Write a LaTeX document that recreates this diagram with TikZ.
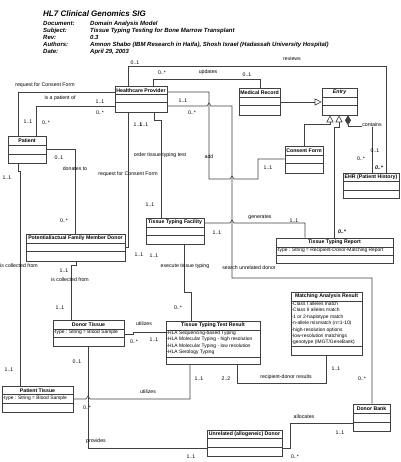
\documentclass[tikz,border=0pt]{standalone}
\usepackage{fontspec}
\setmainfont{Liberation Sans}
\usetikzlibrary{arrows.meta}

\tikzset{
  uml/.style={line width=0.6pt, draw=black!75},
  classbox/.style={uml, rectangle, inner sep=0pt},
  classname/.style={font=\fontsize{5.2}{6}\selectfont\bfseries, inner sep=0pt},
  attrtext/.style={anchor=north west, align=left, font=\fontsize{4.9}{6.4}\selectfont, inner sep=0pt, xshift=0.4pt, yshift=-0.8pt},
  lbl/.style={font=\fontsize{5.2}{6}\selectfont, inner sep=0pt},
  boldmult/.style={font=\fontsize{5.2}{6}\selectfont\bfseries\itshape, inner sep=0pt},
  assoc/.style={uml, line join=miter},
  gen/.style={uml, -{Triangle[open, length=7pt, width=7pt]}},
  comp/.style={uml, -{Diamond[length=10pt, width=6pt]}},
  titletext/.style={anchor=base west, inner sep=0pt, font=\fontsize{8}{9}\selectfont\bfseries\itshape},
  hdr/.style={anchor=base west, inner sep=0pt, font=\fontsize{6}{7}\selectfont\bfseries\itshape},
}

% UML class: id, x1, y1, x2, y2, name, attributes, name height, attribute height
\newcommand{\umlclass}[9]{%
  \node[classbox, minimum width={(#4-#2)*1pt}, minimum height={(#5-#3)*1pt}] (#1) at ({(#2+#4)/2},{(#3+#5)/2}) {};
  \node[classname] (#1-name) at ({(#2+#4)/2},{#3+(#8)/2}) {#6};
  \draw[uml] (#2,{#3+#8}) -- (#4,{#3+#8});
  \draw[uml] (#2,{#3+#8+#9}) -- (#4,{#3+#8+#9});
  \node[attrtext] (#1-attr) at (#2,{#3+#8}) {#7};
}

\begin{document}
\begin{tikzpicture}[x=1pt,y=-1pt]
\useasboundingbox (0,0) rectangle (400,462);

% document header
\node[titletext] (title) at (43,17) {HL7 Clinical Genomics SIG};
\node[hdr] (k1) at (43,26) {Document:};
\node[hdr] (v1) at (90,26) {Domain Analysis Model};
\node[hdr] (k2) at (43,33) {Subject:};
\node[hdr] (v2) at (90,33) {Tissue Typing Testing for Bone Marrow Transplant};
\node[hdr] (k3) at (43,40) {Rev:};
\node[hdr] (v3) at (90,40) {0.3};
\node[hdr] (k4) at (43,47) {Authors:};
\node[hdr] (v4) at (90,47) {Amnon Shabo (IBM Research in Haifa), Shosh Israel (Hadassah University Hospital)};
\node[hdr] (k5) at (43,54) {Date:};
\node[hdr] (v5) at (90,54) {April 29, 2003};

% classes
\umlclass{hp}{115}{86}{167}{112}{Healthcare Provider}{}{8.5}{8}
\umlclass{mr}{239}{88}{280}{115}{Medical Record}{}{9}{8.5}
\umlclass{entry}{322}{88}{357}{115}{\itshape Entry}{}{9}{8.5}
\umlclass{cf}{285}{146}{323}{173}{Consent Form}{}{9}{8.5}
\umlclass{ehr}{343}{173}{399}{198}{EHR (Patient History)}{}{8.5}{8.5}
\umlclass{patient}{8}{136}{46}{163}{Patient}{}{9}{9}
\umlclass{fmd}{26}{234}{125}{261}{Potential/actual Family Member Donor}{}{9}{8.5}
\umlclass{ttf}{146}{218}{204}{244}{Tissue Typing Facility}{}{9}{8.5}
\umlclass{ttr}{276}{238}{393}{263}{Tissue Typing Report}{-type : String = Recipient-Donor-Matching Report}{9}{8.5}
\umlclass{mar}{291}{292}{362}{355}{Matching Analysis Result}{-Class I alleles match\\-Class II alleles match\\-1 or 2-haplotype match\\-n-allele mismatch (n=1-10)\\-high-resolution options\\-low-resolution matchings\\-genotype (IMGT/GeneBank)}{9}{45}
\umlclass{dt}{53}{320}{124}{346}{Donor Tissue}{-type : String = Blood Sample}{9}{8.5}
\umlclass{tttr}{166}{321}{260}{364}{Tissue Typing Test Result}{-HLA Sequencing-based Typing\\-HLA Molecular Typing - high resolution\\-HLA Molecular Typing - low resolution\\-HLA Serology Typing}{9}{27}
\umlclass{pt}{2}{386}{73}{412}{Patient Tissue}{-type : String = Blood Sample}{8.5}{8.5}
\umlclass{db}{353}{404}{390}{431}{Donor Bank}{}{9}{9}
\umlclass{ud}{207}{430}{282}{456}{Unrelated (allogeneic) Donor}{}{8}{9}

% associations
\draw[assoc] (hp.north -| 128,0) -- (128,66) -- (386,66) -- (ehr.north -| 386,0);
\draw[assoc] (hp.north -| 153,0) -- (153,79) -- (260,79) -- (mr.north -| 260,0);
\draw[assoc] (patient.north -| 18,0) -- (18,92) -- (hp.west |- 0,92);
\draw[assoc] (patient.north -| 36,0) -- (36,106) -- (hp.west |- 0,106);
\draw[assoc] (hp.east |- 0,92) -- (209,92) -- (209,179) -- (230,179) -- (232,176) -- (234,179) -- (258,179) -- (258,159) -- (cf.west |- 0,159);
\draw[assoc] (hp.east |- 0,106) -- (207,106) -- (209,103) -- (211,106) -- (232,106) -- (232,278) -- (372,278) -- (db.north -| 372,0);
\draw[assoc] (hp.south -| 154,0) -- (154,120) -- (161,120) -- (ttf.north -| 161,0);
\draw[assoc] (hp.south -| 128,0) -- (128,247) -- (fmd.east |- 0,247);
\draw[assoc] (ttf.east |- 0,223) -- (230,223) -- (232,220) -- (234,223) -- (305,223) -- (ttr.north -| 305,0);
\draw[assoc] (ttf.south -| 184,0) -- (184,292) -- (191,292) -- (tttr.north -| 191,0);
\draw[assoc] (patient.east |- 0,149) -- (75,149) -- (fmd.north -| 75,0);
\draw[assoc] (patient.south -| 18,0) -- (18,171) -- (20,171) -- (pt.north -| 20,0);
\draw[assoc] (fmd.south -| 76,0) -- (76,265) -- (71,265) -- (dt.north -| 71,0);
\draw[assoc] (dt.east |- 0,334) -- (133,334) -- (133,332) -- (tttr.west |- 0,332);
\draw[assoc] (pt.east |- 0,399) -- (86,399) -- (88,396) -- (90,399) -- (190,399) -- (tttr.south -| 190,0);
\draw[assoc] (dt.south -| 88,0) -- (88,448.5) -- (ud.west |- 0,448.5);
\draw[assoc] (tttr.south -| 237,0) -- (237,383) -- (326,383) -- (mar.south -| 326,0);
\draw[assoc] (ud.east |- 0,448) -- (290,448) -- (290,423) -- (db.west |- 0,423);

% generalisations and composition
\draw[gen] (mr.east |- 0,102) -- (entry.west |- 0,102);
\draw[gen] (cf.north -| 304,0) -- (304,124) -- (330,124) -- (entry.south -| 330,0);
\draw[gen] (ttr.north -| 334,0) -- (334,127) -- (339,127) -- (entry.south -| 339,0);
\draw[comp] (ehr.north -| 372,0) -- (372,126) -- (348,126) -- (entry.south -| 348,0);

% association names
\node[lbl] (n-reviews) at (292,59) {reviews};
\node[lbl] (n-updates) at (208,72) {updates};
\node[lbl] (n-req1) at (45,85) {request for Consent Form};
\node[lbl] (n-patof) at (60,98) {is a patient of};
\node[lbl] (n-order) at (160,155) {order tissue typing test};
\node[lbl] (n-add) at (209,157) {add};
\node[lbl] (n-req2) at (128,174) {request for Consent Form};
\node[lbl, fill=white, inner sep=0.4pt] (n-contains) at (372,125) {contains};
\node[lbl] (n-donates) at (75,169) {donates to};
\node[lbl] (n-generates) at (260,217) {generates};
\node[lbl] (n-coll1) at (19,266) {is collected from};
\node[lbl] (n-exec) at (185,266) {execute tissue typing};
\node[lbl] (n-search) at (249,268) {search unrelated donor};
\node[lbl] (n-coll2) at (70,280) {is collected from};
\node[lbl] (n-util1) at (144,324) {utilizes};
\node[lbl] (n-results) at (286,377) {recipient-donor results};
\node[lbl] (n-util2) at (148,392) {utilizes};
\node[lbl] (n-alloc) at (304,417) {allocates};
\node[lbl] (n-provides) at (96,441) {provides};

% multiplicities
\node[lbl] (m1) at (135,63) {0..1};
\node[lbl] (m2) at (162,73) {0..*};
\node[lbl] (m3) at (247,75) {0..1};
\node[lbl] (m4) at (100,102) {1..1};
\node[lbl] (m5) at (100,113) {0..*};
\node[lbl] (m6) at (28,122) {1..1};
\node[lbl] (m7) at (46,123) {0..*};
\node[lbl] (m8) at (183,101) {1..1};
\node[lbl] (m9) at (192,113) {0..*};
\node[lbl] (m10) at (138,125) {1..1};
\node[lbl] (m11) at (144,125) {1..1};
\node[lbl] (m12) at (268,168) {1..1};
\node[lbl] (m13) at (375,151) {0..1};
\node[lbl] (m14) at (361,159) {0..*};
\node[boldmult] (m15) at (379,168) {0..*};
\node[lbl] (m16) at (59,158) {0..1};
\node[lbl] (m17) at (7,178) {1..1};
\node[lbl] (m18) at (64,221) {0..*};
\node[lbl] (m19) at (150,205) {1..1};
\node[lbl] (m20) at (294,221) {1..1};
\node[boldmult] (m21) at (342,232) {0..*};
\node[lbl] (m22) at (217,233) {1..1};
\node[lbl] (m23) at (139,255) {1..1};
\node[lbl] (m24) at (154,256) {1..1};
\node[lbl] (m25) at (64,271) {1..1};
\node[lbl] (m26) at (178,308) {0..*};
\node[lbl] (m27) at (60,308) {1..1};
\node[lbl] (m28) at (134,342) {0..*};
\node[lbl] (m29) at (154,340) {1..1};
\node[lbl] (m30) at (77,362) {0..1};
\node[lbl] (m31) at (9,370) {1..1};
\node[lbl] (m32) at (336,369) {1..1};
\node[lbl] (m33) at (226,379) {2..2};
\node[lbl] (m34) at (199,379) {1..1};
\node[lbl] (m35) at (362,379) {0..*};
\node[lbl] (m36) at (87,408) {0..*};
\node[lbl] (m37) at (340,433) {1..1};
\node[lbl] (m38) at (191,457) {1..1};
\node[lbl] (m39) at (295,457) {0..*};
\end{tikzpicture}
\end{document}
